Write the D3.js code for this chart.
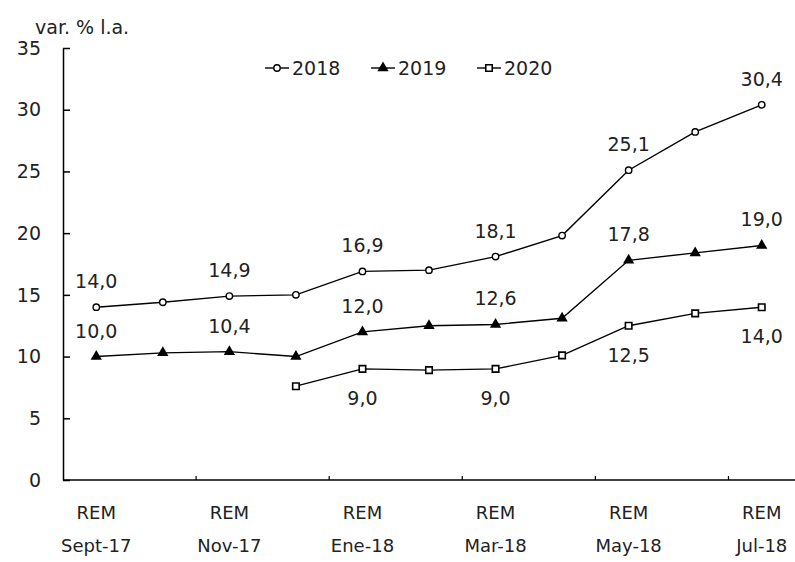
<!DOCTYPE html>
<html><head><meta charset="utf-8">
<script src="https://cdn.jsdelivr.net/npm/d3@7"></script>
<style>body{margin:0;background:#fff} text{font-family:"DejaVu Sans",sans-serif;fill:#222}</style>
</head><body><svg id="c" width="795" height="562"></svg>
<script>
const categories = ["Sept-17","Oct-17","Nov-17","Dic-17","Ene-18","Feb-18","Mar-18","Abr-18","May-18","Jun-18","Jul-18"];
const shownCategories = ["Sept-17","Nov-17","Ene-18","Mar-18","May-18","Jul-18"];
const axisPrefix = "REM";
const s2018 = [14.0,14.4,14.9,15.0,16.9,17.0,18.1,19.8,25.1,28.2,30.4];
const s2019 = [10.0,10.3,10.4,10.0,12.0,12.5,12.6,13.1,17.8,18.4,19.0];
const s2020 = [null,null,null,7.6,9.0,8.9,9.0,10.1,12.5,13.5,14.0];
const yTicks = [0,5,10,15,20,25,30,35];
const seriesNames = ["2018","2019","2020"];
const labels2018 = ["Sept-17","Nov-17","Ene-18","Mar-18","May-18","Jul-18"];
const labels2019 = ["Sept-17","Nov-17","Ene-18","Mar-18","May-18","Jul-18"];
const labels2020 = ["Ene-18","Mar-18","May-18","Jul-18"];
const yTitle = "var. % l.a.";

const svg = d3.select("#c");
const x = d3.scaleBand().domain(categories).range([63,795]).padding(0);
const cx = c => x(c) + x.bandwidth()/2;
const y = d3.scaleLinear().domain([0,35]).range([480,48]);

// Y axis
const ya = svg.append("g").attr("transform","translate(63,0)")
  .call(d3.axisRight(y).tickValues(yTicks).tickSize(7).tickSizeOuter(0).tickFormat(""));
ya.selectAll("path,line").attr("stroke","#000").attr("stroke-width",1.5);
svg.append("g").selectAll("text").data(yTicks).join("text")
  .attr("x",41).attr("y",d=>y(d)).attr("dy","0.35em").attr("text-anchor","end")
  .style("font-size","19px").text(d=>d);
svg.append("text").attr("x",35).attr("y",34).style("font-size","19px").text(yTitle);

// X axis
svg.append("line").attr("x1",63).attr("x2",795).attr("y1",480).attr("y2",480)
  .attr("stroke","#000").attr("stroke-width",1.5);
svg.append("g").selectAll("line").data(categories.filter((c,i)=>i>0 && i%2===0)).join("line")
  .attr("x1",d=>x(d)).attr("x2",d=>x(d)).attr("y1",480).attr("y2",476)
  .attr("stroke","#000").attr("stroke-width",1.2);
const xl = svg.append("g").selectAll("g").data(shownCategories).join("g")
  .attr("transform",d=>`translate(${cx(d)},0)`);
xl.append("text").attr("y",519).attr("text-anchor","middle").style("font-size","18px").text(axisPrefix);
xl.append("text").attr("y",552).attr("text-anchor","middle").style("font-size","18px").text(d=>d);

// lines
const series = [
  {name:seriesNames[0], vals:s2018, sym:"circle", labels:labels2018, pos:"above"},
  {name:seriesNames[1], vals:s2019, sym:"triangle", labels:labels2019, pos:"above"},
  {name:seriesNames[2], vals:s2020, sym:"square", labels:labels2020, pos:"below"}
];
const line = d3.line().defined(d=>d.v!=null).x(d=>cx(d.c)).y(d=>y(d.v));
const fmt = v => d3.format(".1f")(v).replace(".",",");
function drawMarker(g, sym, px, py){
  if(sym==="circle") g.append("circle").attr("cx",px).attr("cy",py).attr("r",3.2)
    .attr("fill","#fff").attr("stroke","#000").attr("stroke-width",1.4);
  else if(sym==="triangle") g.append("path").attr("transform",`translate(${px},${py})`)
    .attr("d",d3.symbol(d3.symbolTriangle,55)()).attr("fill","#000");
  else g.append("path").attr("transform",`translate(${px},${py})`)
    .attr("d",d3.symbol(d3.symbolSquare,42)()).attr("fill","#fff").attr("stroke","#000").attr("stroke-width",1.6);
}
series.forEach(s=>{
  const pts = categories.map((c,i)=>({c,v:s.vals[i]}));
  svg.append("path").datum(pts).attr("d",line).attr("fill","none").attr("stroke","#000").attr("stroke-width",1.4);
  const g = svg.append("g");
  pts.filter(p=>p.v!=null).forEach(p=>drawMarker(g,s.sym,cx(p.c),y(p.v)));
  svg.append("g").selectAll("text").data(pts.filter(p=>s.labels.includes(p.c))).join("text")
    .attr("x",d=>cx(d.c)).attr("y",d=>s.pos==="above"? y(d.v)-19 : y(d.v)+36)
    .attr("text-anchor","middle").style("font-size","19px").text(d=>fmt(d.v));
});

// legend
const lg = svg.append("g").selectAll("g").data(series).join("g")
  .attr("transform",(d,i)=>`translate(${265+i*106},68)`);
lg.append("line").attr("x1",0).attr("x2",24).attr("stroke","#000").attr("stroke-width",1.4);
lg.each(function(d){ drawMarker(d3.select(this), d.sym, 12, 0); });
lg.append("text").attr("x",27).attr("dy","0.35em").style("font-size","19px").text(d=>d.name);
</script></body></html>
